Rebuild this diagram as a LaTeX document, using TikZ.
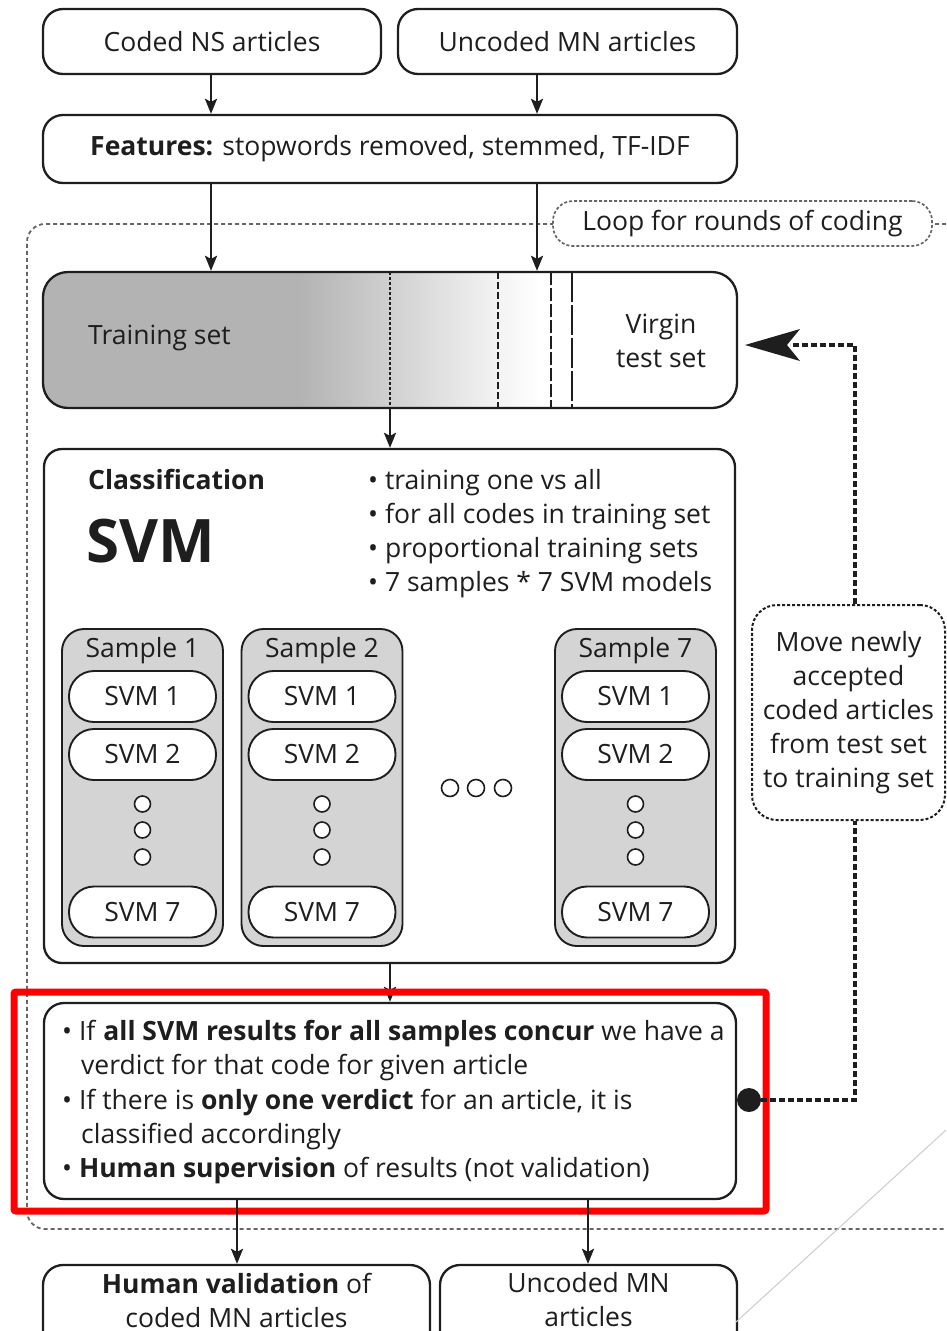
\documentclass[tikz,border=0pt]{standalone}
\usepackage{fontspec}
\setmainfont{Open Sans}
\usetikzlibrary{arrows.meta}

\definecolor{barDark}{HTML}{B3B3B3}
\definecolor{barMid}{HTML}{D0D0D0}
\definecolor{barLight}{HTML}{F3F3F3}
\definecolor{sampleFill}{HTML}{D4D4D4}
\definecolor{ink}{HTML}{1E1E1E}

\begin{document}
\begin{tikzpicture}[x=1pt,y=-1pt,
  every node/.style={font=\fontsize{26.5}{34}\selectfont, text=ink},
  box/.style={draw=ink, line width=2.3pt, rounded corners=20pt, fill=white, inner sep=0pt},
  samplebox/.style={draw=ink, line width=1.9pt, rounded corners=22pt, fill=sampleFill,
    minimum width=161pt, minimum height=317pt, inner sep=0pt},
  pill/.style={draw=ink, line width=1.9pt, rounded corners=25pt, fill=white,
    minimum width=147pt, minimum height=51pt, inner sep=0pt},
  dotc/.style={circle, draw=ink, line width=1.6pt, fill=white, minimum size=16pt, inner sep=0pt},
  flow/.style={draw=ink, line width=2.6pt, -{Stealth[length=15pt,width=12pt,inset=3pt]}},
  framedash/.style={draw=black!60, line width=1.8pt, dash pattern=on 4pt off 3pt},
  loopline/.style={draw=ink, line width=3.2pt, dash pattern=on 6pt off 3pt},
  txt/.style={inner sep=0pt, anchor=base west},
]
\useasboundingbox (0,0) rectangle (946,1331);

% outer loop frame
\draw[framedash, rounded corners=18pt] (946,224) -- (27,224) -- (27,1229) -- (946,1229);

% input sources
\node[box, minimum width=338pt, minimum height=65pt] (ns) at (212,41.5) {Coded NS articles};
\node[box, minimum width=339pt, minimum height=65pt] (mn) at (567.5,41.5) {Uncoded MN articles};

% feature extraction
\node[box, minimum width=694pt, minimum height=68pt] (feat) at (390,149)
  {\textbf{Features:} stopwords removed, stemmed, TF-IDF};

\draw[flow] (ns.south -| 211,0) -- (feat.north -| 211,0);
\draw[flow] (mn.south -| 537,0) -- (feat.north -| 537,0);

% loop label
\node[draw=black!60, line width=1.7pt, dash pattern=on 3pt off 2pt, rounded corners=20pt,
  fill=white, minimum width=379pt, minimum height=45pt, inner sep=0pt] (loop) at (742.5,223.5)
  {Loop for rounds of coding};

% training / test set bar: graded fill and split markers
\begin{scope}
  \clip[rounded corners=25pt] (43,272) rectangle (737,408);
  \fill[white] (43,272) rectangle (737,408);
  \fill[barDark] (43,272) rectangle (300,408);
  \shade[left color=barDark, right color=barMid] (300,272) rectangle (390,408);
  \shade[left color=barMid, right color=barLight] (390,272) rectangle (498,408);
  \shade[left color=barLight, right color=white] (498,272) rectangle (540,408);
  \draw[ink, line width=1.7pt, dash pattern=on 3pt off 2pt] (390,272) -- (390,408);
  \draw[ink, line width=1.7pt, dash pattern=on 7pt off 3pt] (498,272) -- (498,408);
  \draw[ink, line width=1.7pt, dash pattern=on 13pt off 3pt] (551,272) -- (551,408);
  \draw[ink, line width=1.7pt, dash pattern=on 30pt off 3pt] (572,272) -- (572,408);
\end{scope}
\node[box, fill=none, rounded corners=25pt, minimum width=694pt, minimum height=136pt] (train) at (390,340) {};
\node[inner sep=0pt, anchor=west] (traintxt) at (88,338) {Training set};
\node[align=center, inner sep=0pt] (virgin) at (661,341) {Virgin\\test set};

\draw[flow] (feat.south -| 211,0) -- (train.north -| 211,0);
\draw[flow] (feat.south -| 537,0) -- (train.north -| 537,0);

% classification block
\node[box, rounded corners=18pt, minimum width=691pt, minimum height=514pt] (cls) at (389.5,706) {};
\draw[flow] (train.south -| 390,0) -- (cls.north -| 390,0);

\node[txt] (clshead) at (88,489) {\textbf{Classification}};
\node[txt, font=\fontsize{60}{62}\selectfont\bfseries] (svmbig) at (86,562) {SVM};
\node[txt] (b1) at (368,489) {• training one vs all};
\node[txt] (b2) at (368,523) {• for all codes in training set};
\node[txt] (b3) at (368,557) {• proportional training sets};
\node[txt] (b4) at (368,591) {• 7 samples * 7 SVM models};

\foreach \n/\x in {1/142.5, 2/322, 7/635.5} {
  \node[samplebox] (s\n) at (\x,787.5) {};
  \node[inner sep=0pt, anchor=base] (s\n-lab) at (\x,657) {Sample \n};
  \node[pill] (s\n-1) at (\x,696.5) {SVM 1};
  \node[pill] (s\n-2) at (\x,754.5) {SVM 2};
  \node[dotc] (s\n-d1) at (\x,804) {};
  \node[dotc] (s\n-d2) at (\x,830) {};
  \node[dotc] (s\n-d3) at (\x,857) {};
  \node[pill] (s\n-7) at (\x,912) {SVM 7};
}
\node[dotc, minimum size=17pt] (h1) at (450,788) {};
\node[dotc, minimum size=17pt] (h2) at (476,788) {};
\node[dotc, minimum size=17pt] (h3) at (503,788) {};

% verdict block
\node[box, rounded corners=20pt, minimum width=692pt, minimum height=196pt] (res) at (390,1101) {};
\draw[flow] (cls.south -| 390,0) -- (res.north -| 390,0);

\node[txt] (r1) at (62,1040) {• If \textbf{all SVM results for all samples concur} we have a};
\node[txt] (r2) at (81,1074) {verdict for that code for given article};
\node[txt] (r3) at (62,1109) {• If there is \textbf{only one verdict} for an article, it is};
\node[txt] (r4) at (81,1143) {classified accordingly};
\node[txt] (r5) at (62,1177) {• \textbf{Human supervision} of results (not validation)};

% highlight
\draw[red, line width=7pt, rounded corners=2pt] (14,992) rectangle (766,1211);

% feedback loop
\node[draw=ink, line width=2pt, dash pattern=on 3pt off 2pt, rounded corners=25pt, fill=white,
  minimum width=193pt, minimum height=215pt, align=center, inner sep=0pt] (move) at (848.5,712.5)
  {Move newly\\accepted\\coded articles\\from test set\\to training set};
\node[circle, fill=ink, minimum size=24pt, inner sep=0pt] (dot) at (749,1100) {};
\coordinate (c1) at (855,1100);
\coordinate (c2) at (855,345);
\coordinate (tip) at (745,345);
\draw[loopline] (dot) -- (c1) -- (c1 |- move.south);
\draw[loopline] (move.north -| c2) -- (c2) -- (790,345);
\draw[draw=none, fill=ink] (tip) -- (800,329) -- (787,345) -- (800,361) -- cycle;

% outputs
\node[box, minimum width=387pt, minimum height=110pt] (hv) at (236.5,1320) {};
\node[box, minimum width=297pt, minimum height=110pt] (un) at (588.5,1320) {};
\node[align=center, inner sep=0pt] (hvtxt) at (236.5,1300) {\textbf{Human validation} of\\coded MN articles};
\node[align=center, inner sep=0pt] (untxt) at (588.5,1300) {Uncoded MN\\articles};
\draw[flow] (res.south -| 237,0) -- (hv.north -| 237,0);
\draw[flow] (res.south -| 588,0) -- (un.north -| 588,0);

% thin diagonal stroke
\draw[black!20, line width=1pt] (736,1322) -- (946,1130);
\end{tikzpicture}
\end{document}
